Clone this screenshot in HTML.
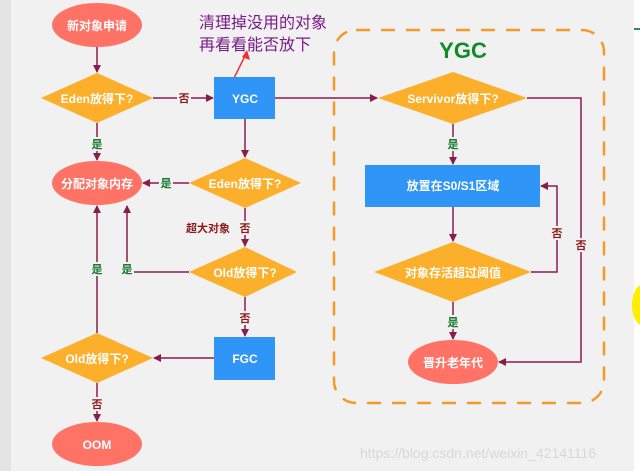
<!DOCTYPE html>
<html><head><meta charset="utf-8"><style>
html,body{margin:0;padding:0;background:#f0f0f0;}
svg{display:block;}
text{font-family:"Liberation Sans","Noto Sans CJK SC",sans-serif;}
</style></head><body>
<svg width="640" height="471" viewBox="0 0 640 471" xmlns="http://www.w3.org/2000/svg">
<defs>
<marker id="a" markerWidth="8" markerHeight="8" refX="7" refY="4" orient="auto" markerUnits="userSpaceOnUse"><path d="M0,0 L8,4 L0,8 z" fill="#8a1c4c"/></marker>
</defs>
<rect x="0" y="0" width="640" height="471" fill="#f1f1f1"/>
<rect x="0" y="0" width="11" height="471" fill="#e4e4e4"/>
<rect x="634" y="0" width="6" height="471" fill="#ffffff"/>
<rect x="634" y="28" width="6" height="2" fill="#2a8a80"/>
<ellipse cx="642" cy="305" rx="10" ry="20" fill="#ffee00"/>

<!-- dashed box -->
<rect x="334" y="30" width="270" height="373" rx="22" fill="none" stroke="#f39a2a" stroke-width="2.5" stroke-dasharray="14,11"/>
<text x="463" y="58" text-anchor="middle" font-size="22" font-weight="bold" fill="#138a2a">YGC</text>

<g stroke="#8a1c4c" stroke-width="1.5" fill="none">
<line x1="97" y1="47" x2="97" y2="72" marker-end="url(#a)"/>
<line x1="153" y1="98" x2="213" y2="98" marker-end="url(#a)"/>
<line x1="97" y1="123" x2="97" y2="160" marker-end="url(#a)"/>
<line x1="245" y1="119" x2="245" y2="157" marker-end="url(#a)"/>
<line x1="189" y1="183" x2="143" y2="183" marker-end="url(#a)"/>
<line x1="245" y1="208" x2="245" y2="246" marker-end="url(#a)"/>
<polyline points="189,272 127,272 127,206" marker-end="url(#a)"/>
<line x1="245" y1="297" x2="245" y2="336" marker-end="url(#a)"/>
<line x1="214" y1="358" x2="154" y2="358" marker-end="url(#a)"/>
<line x1="97" y1="333" x2="97" y2="206" marker-end="url(#a)"/>
<line x1="97" y1="383" x2="97" y2="421" marker-end="url(#a)"/>
<line x1="275" y1="98" x2="377" y2="98" marker-end="url(#a)"/>
<line x1="453" y1="124" x2="453" y2="164" marker-end="url(#a)"/>
<line x1="453" y1="207" x2="453" y2="241" marker-end="url(#a)"/>
<polyline points="531,272 557,272 557,186 541,186" marker-end="url(#a)"/>
<polyline points="527,98 581,98 581,362 499,362" marker-end="url(#a)"/>
<line x1="453" y1="302" x2="453" y2="339" marker-end="url(#a)"/>
</g>
<line x1="232" y1="82" x2="245" y2="56" stroke="#f03030" stroke-width="1.5"/>
<path d="M247,50 L250,60 L242,57 z" fill="#f03030"/>

<g fill="#ff7366">
<ellipse cx="97" cy="25" rx="45" ry="22"/>
<ellipse cx="97" cy="183" rx="45" ry="22"/>
<ellipse cx="97" cy="444" rx="45" ry="22"/>
<ellipse cx="453" cy="362" rx="45" ry="22"/>
</g>
<g fill="#fbaf2a">
<polygon points="41,98 97,73 153,98 97,123"/>
<polygon points="189,183 245,158 301,183 245,208"/>
<polygon points="189,272 245,247 297,272 245,297"/>
<polygon points="41,358 97,333 153,358 97,383"/>
<polygon points="378,98 453,72 527,98 453,124"/>
<polygon points="374,272 453,242 531,272 453,302"/>
</g>
<g fill="#2f95f6">
<rect x="214" y="77" width="61" height="42"/>
<rect x="214" y="337" width="61" height="43"/>
<rect x="365" y="165" width="175" height="42"/>
</g>

<g fill="#ffffff" font-weight="bold" font-size="12" text-anchor="middle">
<text x="97" y="30">新对象申请</text>
<text x="97" y="103">Eden放得下?</text>
<text x="245" y="103">YGC</text>
<text x="97" y="188">分配对象内存</text>
<text x="245" y="188">Eden放得下?</text>
<text x="245" y="277">Old放得下?</text>
<text x="245" y="363">FGC</text>
<text x="97" y="363">Old放得下?</text>
<text x="97" y="449">OOM</text>
<text x="453" y="103">Servivor放得下?</text>
<text x="453" y="190">放置在S0/S1区域</text>
<text x="453" y="277">对象存活超过阈值</text>
<text x="453" y="367">晋升老年代</text>
</g>

<g font-size="11" font-weight="bold" text-anchor="middle">
<rect x="177" y="91" width="14" height="14" fill="#f1f1f1"/><text x="184" y="102" fill="#8b1a1a">否</text>
<rect x="90" y="137" width="14" height="14" fill="#f1f1f1"/><text x="97" y="148" fill="#17792a">是</text>
<rect x="159" y="176" width="14" height="14" fill="#f1f1f1"/><text x="166" y="187" fill="#17792a">是</text>
<text x="208" y="232" fill="#8b1a1a">超大对象</text>
<rect x="238" y="221" width="14" height="14" fill="#f1f1f1"/><text x="245" y="232" fill="#8b1a1a">否</text>
<rect x="90" y="262" width="14" height="14" fill="#f1f1f1"/><text x="97" y="273" fill="#17792a">是</text>
<rect x="120" y="262" width="14" height="14" fill="#f1f1f1"/><text x="127" y="273" fill="#17792a">是</text>
<rect x="238" y="311" width="14" height="14" fill="#f1f1f1"/><text x="245" y="322" fill="#8b1a1a">否</text>
<rect x="90" y="397" width="14" height="14" fill="#f1f1f1"/><text x="97" y="408" fill="#8b1a1a">否</text>
<rect x="446" y="137" width="14" height="14" fill="#f1f1f1"/><text x="453" y="148" fill="#17792a">是</text>
<rect x="550" y="226" width="14" height="14" fill="#f1f1f1"/><text x="557" y="237" fill="#8b1a1a">否</text>
<rect x="574" y="238" width="14" height="14" fill="#f1f1f1"/><text x="581" y="249" fill="#8b1a1a">否</text>
<rect x="446" y="315" width="14" height="14" fill="#f1f1f1"/><text x="453" y="326" fill="#17792a">是</text>
</g>

<g font-size="16" fill="#7a1a8a">
<text x="199" y="28">清理掉没用的对象</text>
<text x="199" y="50">再看看能否放下</text>
</g>
<text x="360" y="458" font-size="14" fill="#d8d8d8">https://blog.csdn.net/weixin_42141116</text>
</svg>
</body></html>
